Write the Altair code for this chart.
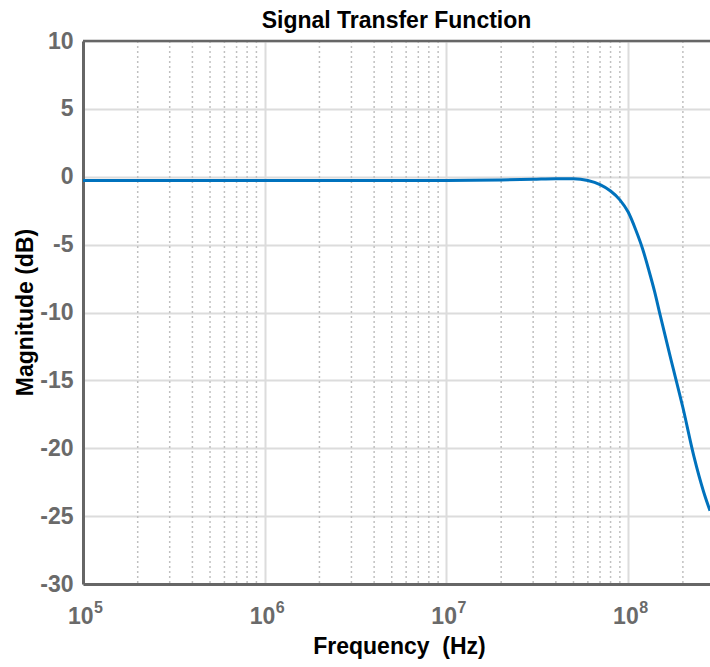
import altair as alt
import pandas as pd

# ---- data ----
freq_hz = [1e5, 3e5, 1e6, 3e6, 1e7, 2e7, 3e7, 4e7, 5e7, 6e7, 7e7, 8e7, 9e7,
           1.0e8, 1.1e8, 1.2e8, 1.3e8, 1.4e8, 1.5e8, 1.7e8, 2.0e8, 2.3e8, 2.6e8, 2.82e8]
mag_db = [-0.28, -0.28, -0.28, -0.28, -0.27, -0.24, -0.19, -0.15, -0.15, -0.28, -0.58, -1.05, -1.7,
          -2.6, -3.9, -5.3, -6.9, -8.5, -10.2, -13.2, -17.0, -20.6, -23.2, -24.6]

decade_ticks = [1e5, 1e6, 1e7, 1e8]
decade_exps = ["5", "6", "7", "8"]
minor_mantissas = [2, 3, 4, 5, 6, 7, 8, 9]
minor_decades = [1e5, 1e6, 1e7, 1e8]
y_ticks = [-30, -25, -20, -15, -10, -5, 0, 5, 10]

x_domain = [1e5, 2.82e8]
y_domain = [-30, 10]

minor_freqs = [m * d for d in minor_decades for m in minor_mantissas if m * d <= x_domain[1]]

curve = pd.DataFrame({"freq": freq_hz, "mag": mag_db})
minor = pd.DataFrame({"freq": minor_freqs})
exps = pd.DataFrame({"freq": decade_ticks, "exp": decade_exps, "mag": [y_domain[0]] * len(decade_ticks)})
top = pd.DataFrame({"mag": [y_domain[1]]})

FONT = "Liberation Sans"
LABEL_GRAY = "#6a6a6a"
AXIS_GRAY = "#666666"
GRID = "#dcdcdc"

x_scale = alt.Scale(type="log", domain=x_domain, nice=False)
y_scale = alt.Scale(domain=y_domain, nice=False, zero=False)

X_AXIS = alt.Axis(
    values=decade_ticks, labelExpr="'10'", title="Frequency \u00a0(Hz)",
    grid=True, gridColor=GRID, gridWidth=2,
    domainColor=AXIS_GRAY, domainWidth=3, ticks=False, tickSize=0,
    labelFont=FONT, labelFontSize=23, labelFontWeight="bold", labelColor=LABEL_GRAY,
    labelPadding=39, labelBaseline="alphabetic", labelAlign="right", labelOffset=10,
    labelFlush=False, labelOverlap=False, labelBound=False,
    titleFont=FONT, titleFontSize=23, titleFontWeight="bold", titleColor="black",
    titleBaseline="alphabetic", titleY=69, titleX=316, titleAlign="center",
)
Y_AXIS = alt.Axis(
    values=y_ticks, title="Magnitude (dB)",
    labelExpr="datum.value < 0 ? '-' + abs(datum.value) : '' + datum.value",
    grid=True, gridColor=GRID, gridWidth=2,
    domainColor=AXIS_GRAY, domainWidth=3, ticks=False, tickSize=0,
    labelFont=FONT, labelFontSize=23, labelFontWeight="bold", labelColor=LABEL_GRAY,
    labelPadding=10, labelBaseline="middle", labelOverlap=False, labelFlush=False,
    titleFont=FONT, titleFontSize=23, titleFontWeight="bold", titleColor="black",
    titleAngle=270, titleBaseline="alphabetic", titleAlign="center",
    titleX=-51, titleY=271,
)

minor_rules = alt.Chart(minor).mark_rule(
    color="#c0c0c0", strokeWidth=1.5, strokeDash=[2, 3]
).encode(x=alt.X("freq:Q", scale=x_scale, axis=X_AXIS))

line = alt.Chart(curve).mark_line(
    color="#0072BD", strokeWidth=3, interpolate="monotone", clip=True
).encode(
    x=alt.X("freq:Q", scale=x_scale, axis=X_AXIS),
    y=alt.Y("mag:Q", scale=y_scale, axis=Y_AXIS),
)

top_rule = alt.Chart(top).mark_rule(color=AXIS_GRAY, strokeWidth=2.5).encode(
    y=alt.Y("mag:Q", scale=y_scale, axis=Y_AXIS)
)

exp_text = alt.Chart(exps).mark_text(
    align="left", baseline="alphabetic", dx=11, dy=29,
    fontSize=16, fontWeight="bold", color=LABEL_GRAY, font=FONT
).encode(
    x=alt.X("freq:Q", scale=x_scale, axis=X_AXIS),
    y=alt.Y("mag:Q", scale=y_scale, axis=Y_AXIS),
    text="exp:N",
)

chart = alt.layer(minor_rules, line, top_rule, exp_text).properties(
    width=627, height=543,
    padding={"left": 83, "top": 41, "right": 0, "bottom": 79},
    autosize=alt.AutoSizeParams(type="none"),
    title=alt.Title("Signal Transfer Function", font=FONT, fontSize=23, fontWeight="bold",
                    color="black", anchor="middle", offset=10, dy=13),
).configure_view(stroke=None).configure(font=FONT, background="white")

chart.save("out.html", embed_options={"renderer": "svg", "actions": False})
